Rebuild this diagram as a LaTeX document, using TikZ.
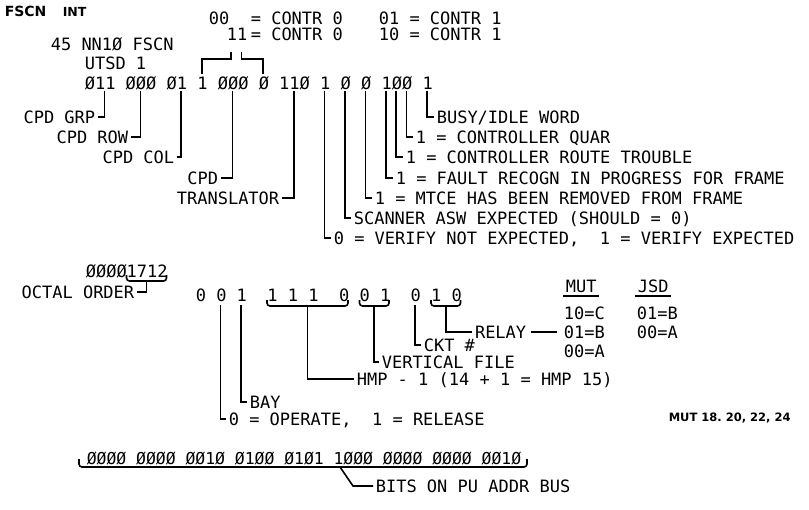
\documentclass[tikz,border=0pt]{standalone}
\usepackage{fontspec}
\setmonofont{DejaVu Sans Mono}
\newfontfamily\hdfont{DejaVu Sans}
\usetikzlibrary{positioning}
\frenchspacing

\begin{document}
\begin{tikzpicture}[
  x=1pt, y=-1pt, line width=1.6pt,
  txt/.style={font=\ttfamily\fontsize{17pt}{20pt}\selectfont,inner xsep=2pt,inner ysep=0pt,text height=12.4pt,text depth=0pt},
  txtL/.style={txt,anchor=west},
  txtR/.style={txt,anchor=east},
  hd/.style={inner sep=0pt,anchor=west},
  brace/.style={rounded corners=3pt}]

\fill[white] (0,0) rectangle (809,509);
\useasboundingbox (0,0) rectangle (809,509);

% heading
\node[hd,font=\hdfont\bfseries\fontsize{14pt}{16pt}\selectfont] (fscn) at (4,11) {FSCN};
\node[hd,font=\hdfont\bfseries\fontsize{12.5pt}{14pt}\selectfont] (int) at (62,11.5) {INT};

% controller select
\node[txtL] (c00) at (206,18) {00};
\node[txtL] (c00eq) at (248,18) {= CONTR 0};
\node[txtL] (c01) at (376,18) {01 = CONTR 1};
\node[txtL] (c11) at (224,34) {11};
\node[txtL] (c11eq) at (248,34) {= CONTR 0};
\node[txtL] (c10) at (376,34) {10 = CONTR 1};

% message and word
\node[txtL] (msg) at (48,44) {45 NN1Ø FSCN};
\node[txtL] (utsd) at (82,63) {UTSD 1};
\node[txtL] (word) at (82,83) {Ø11 ØØØ Ø1 1 ØØØ Ø 11Ø 1 Ø Ø 1ØØ 1};

\coordinate (bSelL) at (201.7,74);
\coordinate (bSelR) at (263.1,74);
\coordinate (cSelL) at (231.1,52);
\coordinate (cSelR) at (241.4,52);
\draw (bSelL) -- ++(0,-15) -| (cSelL);
\draw (bSelR) -- ++(0,-15) -| (cSelR);

\coordinate (bGrp) at (104.5,91);
\coordinate (bRow) at (140.3,91);
\coordinate (bCol) at (181.2,91);
\coordinate (bCpd) at (232.4,91);
\coordinate (bTrn) at (293.8,91);
\coordinate (bVer) at (324.5,91);
\coordinate (bScn) at (345.0,91);
\coordinate (bMtc) at (365.4,91);
\coordinate (bFlt) at (385.9,91);
\coordinate (bRte) at (396.1,91);
\coordinate (bQar) at (406.4,91);
\coordinate (bBsy) at (426.9,91);

\node[txtR] (grp) at (98,117) {CPD GRP};
\node[txtR] (row) at (131,137) {CPD ROW};
\node[txtR] (col) at (177,157) {CPD COL};
\node[txtR] (cpd) at (221,178) {CPD};
\node[txtR] (trn) at (282,198) {TRANSLATOR};
\node[txtL] (busy) at (434,117) {BUSY/IDLE WORD};
\node[txtL] (quar) at (413,137) {1 = CONTROLLER QUAR};
\node[txtL] (route) at (403,157) {1 = CONTROLLER ROUTE TROUBLE};
\node[txtL] (fault) at (393,178) {1 = FAULT RECOGN IN PROGRESS FOR FRAME};
\node[txtL] (mtce) at (372,198) {1 = MTCE HAS BEEN REMOVED FROM FRAME};
\node[txtL] (scan) at (351,218) {SCANNER ASW EXPECTED (SHOULD = 0)};
\node[txtL] (verify) at (331,238) {0 = VERIFY NOT EXPECTED,~~1 = VERIFY EXPECTED};

\draw (bGrp) |- (grp.east);
\draw (bRow) |- (row.east);
\draw (bCol) |- (col.east);
\draw (bCpd) |- (cpd.east);
\draw (bTrn) |- (trn.east);
\draw (bVer) |- (verify.west);
\draw (bScn) |- (scan.west);
\draw (bMtc) |- (mtce.west);
\draw (bFlt) |- (fault.west);
\draw (bRte) |- (route.west);
\draw (bQar) |- (quar.west);
\draw (bBsy) |- (busy.west);

% octal order
\node[txtL] (octal) at (83,271) {ØØØØ1712};
\coordinate (octB) at (146.4,281);
\draw[brace] (126.5,275) |- (octB) -| (166.5,275);
\node[txtR] (order) at (137,292) {OCTAL ORDER};
\draw (octB) |- (order.east);

\node[txtL] (bits) at (193,295) {0 0 1~~1 1 1~~0 0 1~~0 1 0};
\coordinate (bOp) at (220.6,305);
\coordinate (bBay) at (241,305);
\coordinate (bCkt) at (415,305);
\coordinate (hmpB) at (307.5,306);
\coordinate (vfB) at (374.1,306);
\coordinate (rlyB) at (445.7,306);
\draw[brace] (267,300) |- (hmpB) -| (348,300);
\draw[brace] (359.5,300) |- (vfB) -| (389,300);
\draw[brace] (431,300) |- (rlyB) -| (460.5,300);

% relay codes
\node[txtL] (mut) at (563,286) {MUT};
\node[txtL] (jsd) at (635,286) {JSD};
\draw ([yshift=-3pt]mut.south west) -- ([yshift=-3pt]mut.south east);
\draw ([yshift=-3pt]jsd.south west) -- ([yshift=-3pt]jsd.south east);
\node[txtL] (mutC) at (561,313) {10=C};
\node[txt,below=5pt of mutC] (mutB) {01=B};
\node[txt,below=5pt of mutB] (mutA) {00=A};
\node[txtL] (jsdB) at (634,313) {01=B};
\node[txt,below=5pt of jsdB] (jsdA) {00=A};

\node[txt,left=32pt of mutB] (relay) {RELAY};
\node[txtL] (ckt) at (421,345) {CKT \#};
\node[txtL] (vfile) at (379,362) {VERTICAL FILE};
\node[txtL] (hmp) at (354,379) {HMP - 1 (14 + 1 = HMP 15)};
\node[txtL] (bay) at (247,402) {BAY};
\node[txtL] (oper) at (226,419) {0 = OPERATE,~~1 = RELEASE};

\draw (rlyB) |- (relay.west);
\draw[shorten >=4pt,shorten <=2pt] (relay) -- (mutB);
\draw (bCkt) |- (ckt.west);
\draw (vfB) |- (vfile.west);
\draw (hmpB) |- (hmp.west);
\draw (bBay) |- (bay.west);
\draw (bOp) |- (oper.west);

\node[hd,font=\hdfont\bfseries\fontsize{11.5pt}{14pt}\selectfont] (mutref) at (668,418) {MUT 18. 20, 22, 24};

% address bus
\node[txtL,font=\ttfamily\fontsize{16.4pt}{20pt}\selectfont] (bus) at (84,458) {ØØØØ ØØØØ ØØ1Ø Ø1ØØ Ø1Ø1 1ØØØ ØØØØ ØØØØ ØØ1Ø};
\coordinate (busB) at (340,467);
\draw[brace] (79,459) |- (busB) -| (527,459);
\node[txtL] (pubus) at (373,486) {BITS ON PU ADDR BUS};
\draw (busB) -- ++(13,19) -- (pubus.west);
\end{tikzpicture}
\end{document}
